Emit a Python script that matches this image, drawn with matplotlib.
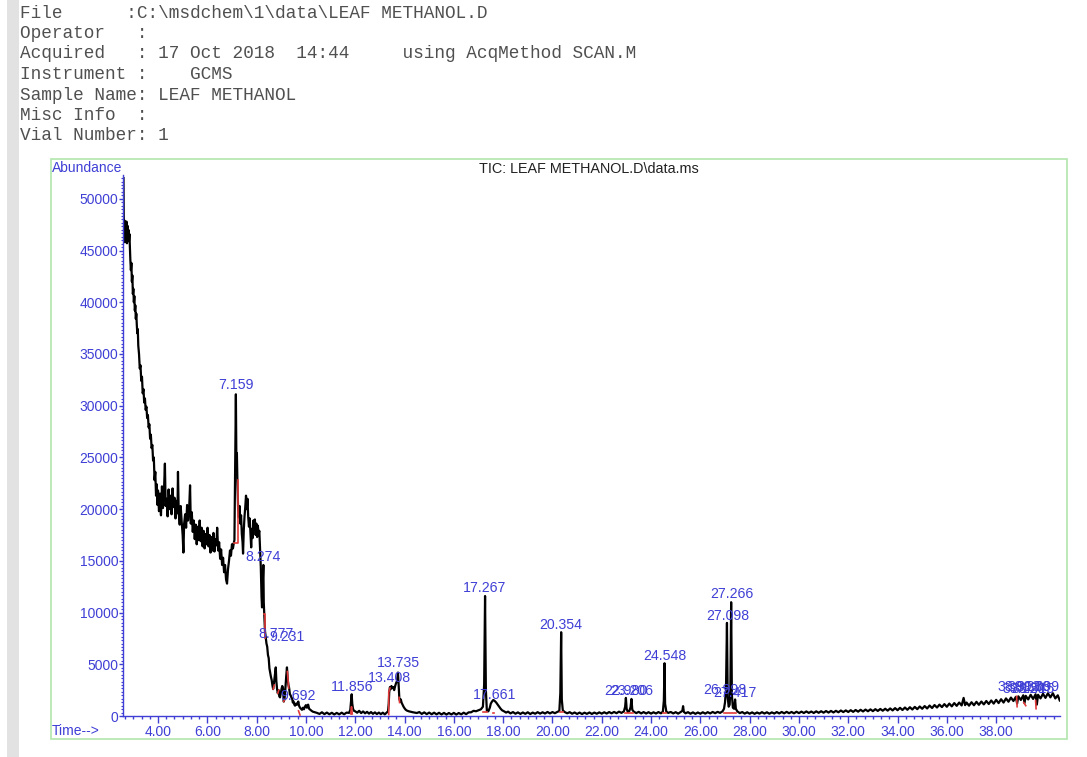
import numpy as np
import matplotlib.pyplot as plt
from matplotlib.patches import Rectangle
from matplotlib.ticker import MultipleLocator, FormatStrFormatter

# header lines of the report
header_lines = [
    "File      :C:\\msdchem\\1\\data\\LEAF METHANOL.D",
    "Operator   :",
    "Acquired   : 17 Oct 2018  14:44     using AcqMethod SCAN.M",
    "Instrument :    GCMS",
    "Sample Name: LEAF METHANOL",
    "Misc Info  :",
    "Vial Number: 1",
]
chart_title = "TIC: LEAF METHANOL.D\\data.ms"

# TIC trace (time in min, abundance)
t_early = [2.60, 2.61, 2.62, 2.64, 2.66, 2.68, 2.70, 2.72, 2.74, 2.76, 2.78, 2.80, 2.82, 2.84,
           2.86, 2.88, 2.90, 2.92, 2.94, 2.96, 2.98, 3.00, 3.02, 3.04, 3.06, 3.08, 3.10, 3.12,
           3.14, 3.16, 3.18, 3.20, 3.23, 3.26, 3.29, 3.32, 3.35, 3.38, 3.41, 3.44, 3.47, 3.50,
           3.53, 3.56, 3.59, 3.62, 3.65, 3.68, 3.71, 3.74, 3.77, 3.80, 3.83, 3.86, 3.89, 3.92,
           3.95, 3.98]
v_early = [52000, 48500, 46800, 47900, 45800, 47600, 46300, 47800, 45700, 47400, 46100, 47000,
           45900, 46600, 45200, 44000, 43100, 43800, 42000, 42600, 40800, 41300, 40000, 40600,
           39200, 39700, 38400, 38900, 37800, 37000, 37400, 35800, 35000, 33600, 33900, 32400,
           32800, 31200, 31600, 30300, 30700, 29600, 29900, 28800, 29100, 27900, 28200, 26800,
           27200, 25900, 26200, 24700, 25000, 22800, 23600, 21300, 22400, 20400]

t_hump = [4.00, 4.04, 4.08, 4.12, 4.16, 4.20, 4.24, 4.28, 4.31, 4.35, 4.39, 4.43, 4.47, 4.51,
          4.55, 4.59, 4.63, 4.67, 4.71, 4.75, 4.79, 4.81, 4.84, 4.88, 4.92, 4.96, 5.00, 5.03,
          5.06, 5.10, 5.14, 5.18, 5.22, 5.26, 5.30, 5.33, 5.37, 5.41, 5.45, 5.49, 5.53, 5.57,
          5.61, 5.65, 5.69, 5.73, 5.77, 5.81, 5.85, 5.89, 5.93, 5.97, 6.01, 6.05, 6.09, 6.13,
          6.17, 6.21, 6.25, 6.29, 6.33, 6.37, 6.40, 6.44, 6.48, 6.52, 6.56, 6.60, 6.64, 6.68,
          6.72, 6.76, 6.80, 6.84, 6.88, 6.92, 6.96, 7.00, 7.04, 7.08]
v_hump = [21800, 19800, 21500, 19400, 22200, 20100, 21600, 24400, 20300, 21000, 19300, 21900,
          20000, 21300, 19500, 22000, 20200, 21100, 19100, 20800, 19600, 23600, 19700, 18500,
          20300, 18800, 17500, 15800, 18600, 19500, 18200, 20400, 18900, 19800, 22300, 18600,
          19700, 17800, 18900, 17100, 18500, 16600, 18300, 17000, 18900, 16900, 18200, 16400,
          17900, 16200, 17600, 16600, 18200, 16400, 17500, 15800, 17300, 16000, 17700, 15900,
          17100, 16500, 18200, 16000, 16800, 15200, 16100, 14600, 15300, 13900, 14600, 13200,
          12800, 14200, 15000, 16000, 15500, 16600, 16200, 16800]

t_drop = [7.10, 7.13, 7.159, 7.18, 7.20, 7.22, 7.25, 7.28, 7.31, 7.34, 7.37, 7.40, 7.43, 7.45,
          7.48, 7.51, 7.54, 7.57, 7.60, 7.63, 7.66, 7.69, 7.72, 7.75, 7.78, 7.81, 7.84, 7.87,
          7.90, 7.93, 7.96, 7.99, 8.02, 8.05, 8.08, 8.11, 8.14, 8.17, 8.20, 8.22, 8.25, 8.274,
          8.29, 8.31, 8.34, 8.37, 8.40, 8.43, 8.46, 8.49, 8.52, 8.55, 8.58, 8.61, 8.64, 8.67,
          8.70, 8.73, 8.777, 8.80, 8.83, 8.86, 8.89, 8.92, 8.95, 8.98, 9.01, 9.04, 9.07, 9.10,
          9.13, 9.16, 9.20, 9.231, 9.26, 9.29, 9.32, 9.35, 9.38, 9.41, 9.44, 9.47, 9.50, 9.53,
          9.56, 9.60, 9.64, 9.692, 9.72, 9.76, 9.80, 9.84, 9.88, 9.92, 9.96, 10.00, 10.04,
          10.09, 10.13, 10.18, 10.23, 10.28, 10.34, 10.40]
v_drop = [17000, 24000, 31100, 24500, 25400, 22800, 20000, 19200, 20300, 18600, 19400, 17600,
          16800, 15700, 18000, 19300, 20200, 21300, 20000, 21000, 19200, 18300, 19100, 17600,
          16300, 18100, 17200, 18900, 18000, 19000, 17500, 18600, 17300, 18400, 17600, 17900,
          16200, 14400, 11500, 10500, 13000, 14600, 11000, 9800, 8200, 7600, 7000, 6700, 5900,
          5600, 4600, 4200, 3800, 3500, 3000, 2600, 3100, 3700, 4700, 3400, 2600, 2200, 2500,
          1900, 1800, 2200, 2600, 2900, 2700, 1400, 1600, 2400, 3800, 4700, 3600, 3000, 2700,
          2100, 2000, 1800, 1700, 1300, 1400, 1100, 1000, 1200, 1100, 1400, 1000, 800, 700,
          600, 800, 650, 900, 1050, 800, 1100, 700, 600, 500, 420, 380, 330]

t_mid = [10.45, 10.55, 10.65, 10.75, 10.85, 10.95, 11.05, 11.15, 11.25, 11.35, 11.45, 11.55,
         11.65, 11.75, 11.80, 11.83, 11.856, 11.88, 11.91, 11.95, 12.00, 12.08, 12.16, 12.24,
         12.32, 12.40, 12.48, 12.56, 12.64, 12.72, 12.80, 12.88, 12.96, 13.04, 13.12, 13.20,
         13.28, 13.33, 13.36, 13.38, 13.408, 13.44, 13.47, 13.50, 13.54, 13.58, 13.62, 13.66,
         13.70, 13.735, 13.76, 13.79, 13.82, 13.85, 13.88, 13.92, 13.96, 14.00, 14.05, 14.10,
         14.18, 14.26, 14.34, 14.42, 14.50, 14.60, 14.70, 14.80, 14.90, 15.00, 15.10, 15.20,
         15.30, 15.40, 15.50, 15.60, 15.70, 15.80, 15.90, 16.00, 16.10, 16.20, 16.30, 16.40,
         16.50, 16.60, 16.70, 16.80, 16.90, 17.00, 17.10, 17.18, 17.23, 17.267, 17.30, 17.34,
         17.40, 17.46, 17.50, 17.55, 17.60, 17.66, 17.72, 17.78, 17.84, 17.90, 17.96]
v_mid = [300, 200, 360, 180, 330, 170, 310, 150, 300, 160, 320, 170, 330, 300, 600, 1400, 2100,
         1200, 700, 500, 450, 320, 500, 280, 440, 260, 400, 230, 380, 210, 350, 190, 330, 180,
         320, 160, 330, 450, 1200, 2300, 2800, 2600, 2900, 2700, 2800, 2500, 2900, 3200, 3400,
         4200, 3000, 1700, 1400, 1600, 1300, 1100, 900, 750, 600, 520, 450, 400, 360, 330, 290,
         380, 200, 350, 180, 330, 170, 320, 160, 310, 150, 300, 140, 290, 150, 300, 140, 290,
         160, 320, 180, 350, 360, 500, 460, 550, 650, 900, 3000, 11600, 2500, 500, 450, 800,
         1200, 1400, 1550, 1450, 1300, 1100, 900, 700, 550]

t_late = [18.04, 18.12, 18.20, 18.30, 18.40, 18.50, 18.60, 18.70, 18.80, 18.90, 19.00, 19.10,
          19.20, 19.30, 19.40, 19.50, 19.60, 19.70, 19.80, 19.90, 20.00, 20.10, 20.20, 20.28,
          20.32, 20.354, 20.38, 20.42, 20.50, 20.60, 20.70, 20.80, 20.90, 21.00, 21.10, 21.20,
          21.30, 21.40, 21.50, 21.60, 21.70, 21.80, 21.90, 22.00, 22.10, 22.20, 22.30, 22.40,
          22.50, 22.60, 22.70, 22.80, 22.90, 22.95, 22.98, 23.01, 23.06, 23.12, 23.17, 23.206,
          23.24, 23.30, 23.40, 23.50, 23.60, 23.70, 23.80, 23.90, 24.00, 24.10, 24.20, 24.30,
          24.40, 24.48, 24.52, 24.548, 24.57, 24.62, 24.70, 24.80, 24.90, 25.00, 25.10, 25.20,
          25.27, 25.30, 25.33, 25.40, 25.50, 25.60, 25.70, 25.80, 25.90, 26.00, 26.10, 26.20,
          26.30, 26.40, 26.50, 26.60, 26.70, 26.80, 26.90, 26.96, 27.00, 27.04, 27.08, 27.11,
          27.15, 27.19, 27.22, 27.25, 27.28, 27.32, 27.37, 27.41, 27.44, 27.50, 27.60, 27.70,
          27.80, 27.90]
v_late = [450, 330, 420, 250, 380, 220, 350, 200, 340, 210, 360, 190, 330, 220, 370, 230, 360,
          240, 390, 250, 380, 270, 400, 480, 2200, 8100, 1600, 550, 380, 260, 370, 220, 340, 200,
          330, 190, 320, 210, 340, 200, 330, 220, 350, 230, 360, 240, 380, 260, 390, 270, 420,
          300, 450, 900, 1750, 700, 380, 480, 850, 1650, 600, 420, 280, 400, 250, 380, 240, 370,
          230, 360, 240, 380, 260, 420, 1500, 5100, 1200, 420, 300, 390, 250, 370, 230, 380, 500,
          950, 400, 260, 370, 220, 350, 210, 340, 220, 360, 230, 370, 250, 390, 270, 400, 300,
          450, 700, 1300, 2500, 9000, 1800, 900, 1100, 3000, 11000, 2000, 800, 700, 1600, 700,
          450, 280, 380, 230, 360]

t_tail = [28.00, 28.10, 28.20, 28.30, 28.40, 28.50, 28.60, 28.70, 28.80, 28.90, 29.00, 29.10,
          29.20, 29.30, 29.40, 29.50, 29.60, 29.70, 29.80, 29.90, 30.00, 30.10, 30.20, 30.30,
          30.40, 30.50, 30.60, 30.70, 30.80, 30.90, 31.00, 31.10, 31.20, 31.30, 31.40, 31.50,
          31.60, 31.70, 31.80, 31.90, 32.00, 32.10, 32.20, 32.30, 32.40, 32.50, 32.60, 32.70,
          32.80, 32.90, 33.00, 33.10, 33.20, 33.30, 33.40, 33.50, 33.60, 33.70, 33.80, 33.90,
          34.00, 34.10, 34.20, 34.30, 34.40, 34.50, 34.60, 34.70, 34.80, 34.90, 35.00, 35.10,
          35.20, 35.30, 35.40, 35.50, 35.60, 35.70, 35.80, 35.90, 36.00, 36.10, 36.20, 36.30,
          36.40, 36.50, 36.60, 36.68, 36.74, 36.80, 36.90, 37.00, 37.10, 37.20, 37.30, 37.40,
          37.50, 37.60, 37.70, 37.80, 37.90, 38.00, 38.10, 38.20, 38.30, 38.40, 38.50, 38.60,
          38.70, 38.80, 38.85, 38.90, 39.00, 39.10, 39.15, 39.20, 39.30, 39.40, 39.50, 39.60,
          39.65, 39.70, 39.80, 39.90, 40.00, 40.10, 40.20, 40.30, 40.40, 40.50, 40.58]
v_tail = [220, 350, 210, 340, 230, 370, 240, 360, 220, 350, 240, 380, 250, 390, 260, 400, 270,
          390, 260, 410, 280, 420, 290, 440, 300, 430, 290, 450, 310, 460, 320, 480, 330, 490,
          340, 500, 360, 530, 380, 540, 390, 560, 400, 580, 420, 600, 440, 620, 460, 640, 470,
          660, 490, 680, 510, 700, 520, 730, 540, 760, 560, 790, 580, 820, 600, 850, 630, 880,
          660, 920, 700, 960, 730, 1010, 770, 1060, 820, 1100, 860, 1150, 890, 1200, 930, 1250,
          980, 1300, 1020, 1750, 1050, 1300, 1000, 1330, 1040, 1370, 1080, 1400, 1120, 1450,
          1160, 1500, 1200, 1560, 1250, 1620, 1300, 1700, 1380, 1780, 1450, 1850, 1200, 1900,
          1550, 2000, 1250, 1950, 1600, 2050, 1650, 2100, 1100, 2050, 1700, 2150, 1750, 2200,
          1800, 2200, 1700, 2000, 1500]

# red integration marks
red_t = [[7.07, 7.23, 7.23], [8.30, 8.33, 8.33], [8.67, 8.72], [8.86, 8.90], [9.10, 9.13],
         [9.25, 9.30], [9.70, 9.76], [11.82, 11.85, 11.88], [13.36, 13.36, 13.41],
         [13.78, 13.80], [17.20, 17.34], [17.58, 17.64], [20.30, 20.42], [22.93, 23.25],
         [24.50, 24.60], [26.95, 27.45], [38.83, 38.85], [39.12, 39.20], [39.60, 39.62]]
red_v = [[16700, 16700, 22800], [9900, 9900, 7500], [2600, 3000], [2200, 2500], [1400, 1600],
         [4300, 2700], [500, 100], [200, 900, 200], [150, 2300, 2700], [1800, 1300],
         [400, 400], [300, 300], [350, 350], [300, 300], [300, 300], [300, 300],
         [1900, 900], [1300, 1000], [1500, 700]]

# peak labels: text, retention time, abundance where the label sits
peak_names = ["7.159", "8.274", "8.777", "9.231", "9.692", "11.856", "13.408", "13.735",
              "17.267", "17.661", "20.354", "22.980", "23.206", "24.548", "26.998", "27.098",
              "27.266", "27.417", "38.913", "39.120", "39.336", "39.515", "39.699"]
peak_times = [7.159, 8.274, 8.777, 9.231, 9.692, 11.856, 13.408, 13.735, 17.267, 17.661,
              20.354, 22.980, 23.206, 24.548, 26.998, 27.098, 27.266, 27.417, 38.913, 39.120,
              39.336, 39.515, 39.699]
label_abund = [32000, 15400, 7900, 7600, 1930, 2800, 3700, 5100, 12400, 2030, 8800, 2400, 2400,
               5800, 2500, 9700, 11800, 2200, 2800, 2600, 2800, 2600, 2800]

t_all = t_early + t_hump + t_drop + t_mid + t_late + t_tail
v_all = v_early + v_hump + v_drop + v_mid + v_late + v_tail

W, H = 1087, 757
blue = '#3f3fd6'

fig = plt.figure(figsize=(W / 100, H / 100), dpi=100)
fig.patch.set_facecolor('white')

# gray strip on the left of the page
fig.patches.append(Rectangle((7 / W, 0), 12 / W, 1, transform=fig.transFigure,
                             facecolor='#e2e2e2', edgecolor='none'))
# green frame round the plot
fig.patches.append(Rectangle((51 / W, 1 - 739 / H), (1067 - 51) / W, (739 - 159) / H,
                             transform=fig.transFigure, fill=False,
                             edgecolor='#b2e6ad', lw=1.2))

for i, line in enumerate(header_lines):
    fig.text(20 / W, 1 - (13 + i * 20.5) / H, line, family='Liberation Mono',
             fontsize=12.8, color='#505050', va='center', ha='left')

ax = fig.add_axes([123 / W, 1 - 716 / H, (1060 - 123) / W, (716 - 175) / H])
ax.patch.set_alpha(0)
ax.plot(t_all, v_all, color='black', lw=1.6, zorder=2)
for rt, rv in zip(red_t, red_v):
    ax.plot(rt, rv, color='#e23a3a', lw=1.2, zorder=3)
for name, pt, la in zip(peak_names, peak_times, label_abund):
    ax.text(pt, la, name, ha='center', va='center', color=blue, fontsize=10.2,
            family='Liberation Sans', zorder=4)

ax.set_xlim(2.58, 40.59)
ax.set_ylim(0, 52300)
for s in ['top', 'right']:
    ax.spines[s].set_visible(False)
for s in ['left', 'bottom']:
    ax.spines[s].set_color(blue)
    ax.spines[s].set_linewidth(1.0)

ax.xaxis.set_major_locator(MultipleLocator(2))
ax.xaxis.set_minor_locator(MultipleLocator(1 / 3))
ax.xaxis.set_major_formatter(FormatStrFormatter('%.2f'))
ax.yaxis.set_major_locator(MultipleLocator(5000))
ax.yaxis.set_minor_locator(MultipleLocator(5000 / 15))
ax.tick_params(axis='x', which='major', length=5, width=1, color=blue, pad=1.5)
ax.tick_params(axis='x', which='minor', length=2.5, width=1, color=blue)
ax.tick_params(axis='y', which='major', length=3, width=1, color=blue, pad=0.5)
ax.tick_params(axis='y', which='minor', length=1.5, width=0.8, color=blue)
# tick labels shown only from 4.00 to 38.00
ax.set_xticks([2 * k for k in range(2, 20)])
for lab in ax.get_xticklabels() + ax.get_yticklabels():
    lab.set_color(blue)
    lab.set_fontsize(10)
    lab.set_family('Liberation Sans')

fig.text(52 / W, 1 - 168 / H, "Abundance", color=blue, fontsize=10,
         family='Liberation Sans', va='center', ha='left')
fig.text(52 / W, 1 - 731 / H, "Time-->", color=blue, fontsize=10,
         family='Liberation Sans', va='center', ha='left')
fig.text(589 / W, 1 - 169 / H, chart_title, color='#222222', fontsize=10.4,
         family='Liberation Sans', va='center', ha='center')

fig.savefig('out.png', dpi=100)
